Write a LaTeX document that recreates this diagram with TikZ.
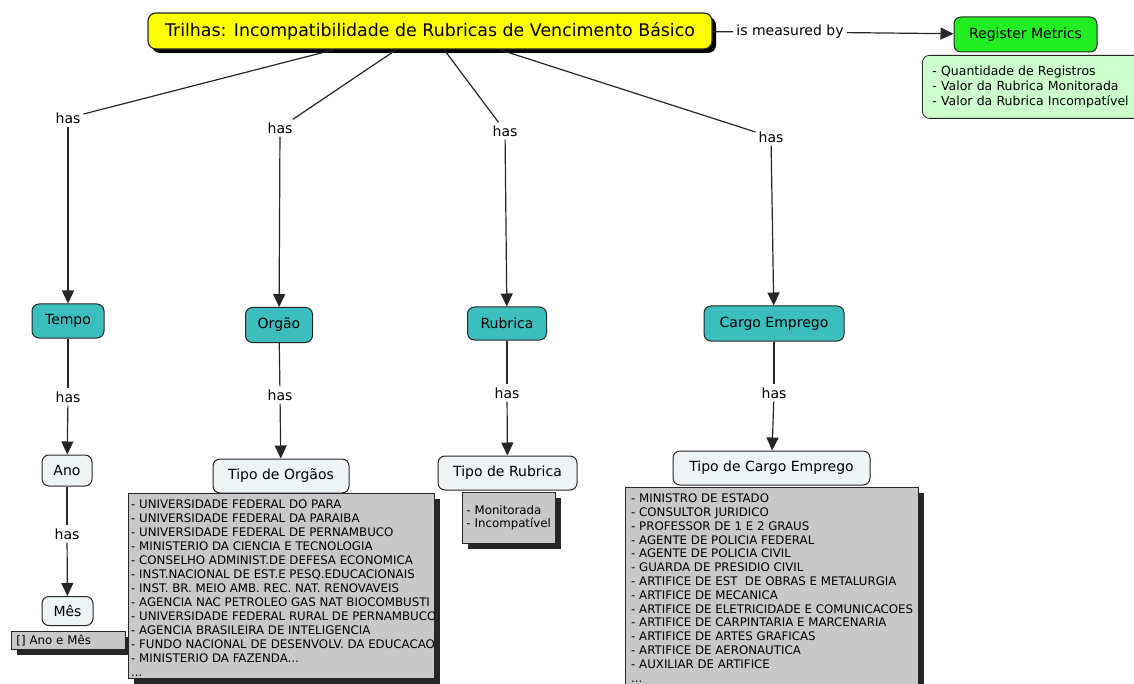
\documentclass[tikz,border=0pt]{standalone}
\usepackage{fontspec}
\setmainfont{DejaVu Sans}
\usetikzlibrary{arrows.meta,shadows}

\definecolor{cmYellow}{HTML}{FFFF00}
\definecolor{cmGreen}{HTML}{22EE22}
\definecolor{cmPaleGreen}{HTML}{CCFFCC}
\definecolor{cmTeal}{HTML}{3CBEBE}
\definecolor{cmLight}{HTML}{EEF4F6}
\definecolor{cmGray}{HTML}{C8C8C8}
\definecolor{cmLine}{HTML}{262626}

\tikzset{
  concept/.style={draw=cmLine, rounded corners=7pt, line width=1pt,
    font=\fontsize{14}{16}\selectfont, inner sep=2pt},
  topic/.style={concept, fill=cmTeal},
  detail/.style={concept, fill=cmLight},
  linkword/.style={font=\fontsize{14}{16}\selectfont, inner sep=3pt},
  listbox/.style={draw=cmLine, fill=cmGray, line width=0.8pt, align=left,
    anchor=north west, inner xsep=4pt, inner ysep=0pt,
    font=\fontsize{11.8}{13.5}\selectfont,
    drop shadow={shadow xshift=6pt, shadow yshift=-6pt, fill=black!85, opacity=1}},
  listtext/.style={anchor=north west, align=left, inner sep=0pt,
    font=\fontsize{11.8}{14}\selectfont},
  link/.style={line width=1.2pt, draw=cmLine},
  arrowlink/.style={link, -{Triangle[length=13pt,width=12pt]}},
}

\begin{document}
\begin{tikzpicture}[x=1pt, y=-1pt]
  \useasboundingbox (0,0) rectangle (1134,684);
  \clip (0,0) rectangle (1134,684);

  % root concept and its metrics
  \node[concept, fill=cmYellow, rounded corners=8pt, line width=1.2pt,
        minimum width=564pt, minimum height=36pt,
        font=\fontsize{17.4}{20}\selectfont,
        drop shadow={shadow xshift=4pt, shadow yshift=-4pt, fill=black, opacity=1}]
        (title) at (430,31) {Trilhas: Incompatibilidade de Rubricas de Vencimento Básico};
  \node[linkword] (ism) at (790,32) {is measured by};
  \node[concept, fill=cmGreen, minimum width=143pt, minimum height=35pt]
        (reg) at (1025.5,34.5) {Register Metrics};
  \node[draw=cmLine, fill=cmPaleGreen, rounded corners=7pt, line width=0.8pt,
        anchor=north west, align=left, text width=240pt, minimum height=63pt,
        inner xsep=10pt, inner ysep=0pt, font=\fontsize{12.5}{15}\selectfont]
        (metrics) at (922,55)
        {- Quantidade de Registros\\- Valor da Rubrica Monitorada\\- Valor da Rubrica Incompatível};

  % linking phrases below the root
  \node[linkword] (has1) at (68,118) {has};
  \node[linkword] (has2) at (280,128) {has};
  \node[linkword] (has3) at (505,131) {has};
  \node[linkword] (has4) at (771,137) {has};

  % dimensions
  \node[topic, minimum width=72pt, minimum height=34pt] (tempo) at (68,321) {Tempo};
  \node[topic, minimum width=67pt, minimum height=35pt] (orgao) at (279,325) {Orgão};
  \node[topic, minimum width=79pt, minimum height=33pt] (rubrica) at (507,323.5) {Rubrica};
  \node[topic, minimum width=140pt, minimum height=35pt] (cargo) at (774,323.5) {Cargo Emprego};

  \node[linkword] (hasT) at (68,397) {has};
  \node[linkword] (hasO) at (280,395) {has};
  \node[linkword] (hasR) at (507,393) {has};
  \node[linkword] (hasC) at (774,393) {has};

  % levels
  \node[detail, minimum width=50pt, minimum height=31pt] (ano) at (67,470.5) {Ano};
  \node[detail, minimum width=136pt, minimum height=34pt] (tipoO) at (281,476) {Tipo de Orgãos};
  \node[detail, minimum width=139pt, minimum height=34pt] (tipoR) at (507.5,473) {Tipo de Rubrica};
  \node[detail, minimum width=197pt, minimum height=34pt] (tipoC) at (771.5,468) {Tipo de Cargo Emprego};

  \node[linkword] (hasA) at (67,534) {has};
  \node[detail, minimum width=51pt, minimum height=29pt] (mes) at (67.5,611) {Mês};

  % member lists
  \node[listbox, text width=104pt, inner xsep=5pt, minimum height=18pt] (mesList) at (11,631) {[] Ano e Mês};
  \node[listbox, text width=85pt, minimum height=51pt] (rubList) at (462,492)
    {- Monitorada\\- Incompatível};

  \node[listbox, minimum width=306pt, minimum height=185pt] (orgList) at (128,493) {};
  \begin{scope}
    \clip (orgList.north west) rectangle (orgList.south east);
    \node[listtext] (orgItems) at ([shift={(3pt,-6.7pt)}]orgList.north west)
      {- UNIVERSIDADE FEDERAL DO PARA\\
       - UNIVERSIDADE FEDERAL DA PARAIBA\\
       - UNIVERSIDADE FEDERAL DE PERNAMBUCO\\
       - MINISTERIO DA CIENCIA E TECNOLOGIA\\
       - CONSELHO ADMINIST.DE DEFESA ECONOMICA\\
       - INST.NACIONAL DE EST.E PESQ.EDUCACIONAIS\\
       - INST. BR. MEIO AMB. REC. NAT. RENOVAVEIS\\
       - AGENCIA NAC PETROLEO GAS NAT BIOCOMBUSTI\\
       - UNIVERSIDADE FEDERAL RURAL DE PERNAMBUCO\\
       - AGENCIA BRASILEIRA DE INTELIGENCIA\\
       - FUNDO NACIONAL DE DESENVOLV. DA EDUCACAO\\
       - MINISTERIO DA FAZENDA...\\
       ...};
  \end{scope}

  \node[listbox, minimum width=293pt, minimum height=215pt] (cargoList) at (625,487) {};
  \begin{scope}
    \clip (cargoList.north west) rectangle (cargoList.south east);
    \node[listtext, font=\fontsize{11.8}{13.8}\selectfont] (cargoItems)
      at ([shift={(6pt,-6.7pt)}]cargoList.north west)
      {- MINISTRO DE ESTADO\\
       - CONSULTOR JURIDICO\\
       - PROFESSOR DE 1 E 2 GRAUS\\
       - AGENTE DE POLICIA FEDERAL\\
       - AGENTE DE POLICIA CIVIL\\
       - GUARDA DE PRESIDIO CIVIL\\
       - ARTIFICE DE EST\ \ DE OBRAS E METALURGIA\\
       - ARTIFICE DE MECANICA\\
       - ARTIFICE DE ELETRICIDADE E COMUNICACOES\\
       - ARTIFICE DE CARPINTARIA E MARCENARIA\\
       - ARTIFICE DE ARTES GRAFICAS\\
       - ARTIFICE DE AERONAUTICA\\
       - AUXILIAR DE ARTIFICE\\
       ...};
  \end{scope}

  % connectors
  \draw[link] (title) -- (ism);
  \draw[arrowlink] (ism) -- (reg);

  \draw[link] (title.191) -- (has1);
  \draw[link] (title.209.6) -- (has2);
  \draw[link] (title.307.7) -- (has3);
  \draw[link] (title.345.3) -- (has4);

  \draw[arrowlink] (has1) -- (tempo);
  \draw[arrowlink] (has2) -- (orgao);
  \draw[arrowlink] (has3) -- (rubrica);
  \draw[arrowlink] (has4) -- (cargo);

  \draw[link] (tempo) -- (hasT);
  \draw[link] (orgao) -- (hasO);
  \draw[link] (rubrica) -- (hasR);
  \draw[link] (cargo) -- (hasC);

  \draw[arrowlink] (hasT) -- (ano);
  \draw[arrowlink] (hasO) -- (tipoO);
  \draw[arrowlink] (hasR) -- (tipoR);
  \draw[arrowlink] (hasC) -- (tipoC);

  \draw[link] (ano) -- (hasA);
  \draw[arrowlink] (hasA) -- (mes);
\end{tikzpicture}
\end{document}
